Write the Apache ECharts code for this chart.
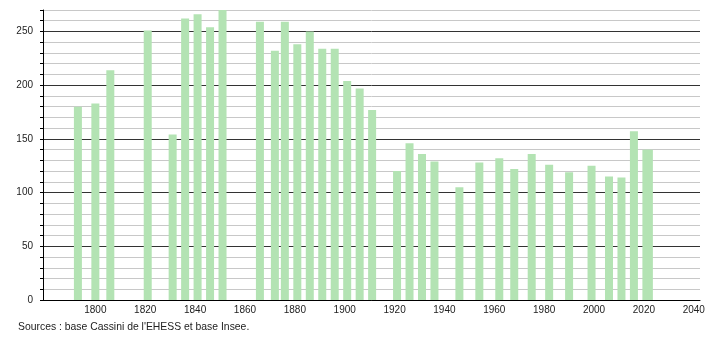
<!DOCTYPE html>
<html>
<head>
<meta charset="utf-8">
<script src="https://cdn.jsdelivr.net/npm/echarts@6/dist/echarts.min.js"></script>
<style>
html,body{margin:0;padding:0;background:#fff;}
#chart{width:710px;height:340px;}
</style>
</head>
<body>
<div id="chart"></div>
<script>
// Census years and population
const years = [1793, 1800, 1806, 1821, 1831, 1836, 1841, 1846, 1851,
  1866, 1872, 1876, 1881, 1886, 1891, 1896, 1901, 1906, 1911,
  1921, 1926, 1931, 1936, 1946, 1954, 1962, 1968, 1975, 1982, 1990,
  1999, 2006, 2011, 2016, 2021, 2022];
const population = [180, 183, 214, 251, 154, 262, 266, 254, 270,
  259, 232, 259, 238, 250, 234, 234, 204, 197, 177,
  120, 146, 136, 129, 105, 128, 132, 122, 136, 126, 119,
  125, 115, 114, 157, 140, 140];
const xTickLabels = [1800, 1820, 1840, 1860, 1880, 1900, 1920, 1940, 1960, 1980, 2000, 2020, 2040];
const yLabelValues = [0, 50, 100, 150, 200, 250];
const sourceText = "Sources : base Cassini de l'EHESS et base Insee.";

const chart = echarts.init(document.getElementById('chart'), null, {renderer: 'canvas'});
const font = 'Liberation Sans, Arial, sans-serif';
chart.setOption({
  animation: false,
  backgroundColor: '#fff',
  grid: {left: 43, right: 10, top: 10, bottom: 40, containLabel: false},
  xAxis: {
    type: 'value',
    min: 1779,
    max: 2042.5,
    axisLine: {show: true, onZero: false, lineStyle: {color: '#000', width: 1}},
    axisTick: {show: false},
    splitLine: {show: false},
    axisLabel: {
      customValues: xTickLabels,
      color: '#222', fontSize: 10, fontFamily: font, margin: 5,
      formatter: v => String(v)
    }
  },
  yAxis: {
    type: 'value',
    min: 0, max: 270, interval: 10,
    axisLine: {show: true, lineStyle: {color: '#000', width: 1}},
    axisTick: {show: true, length: 3, lineStyle: {color: '#000'}},
    axisLabel: {
      color: '#222', fontSize: 10, fontFamily: font, margin: 10,
      formatter: v => yLabelValues.indexOf(v) >= 0 ? String(v) : ''
    },
    splitLine: {show: true, lineStyle: {color: ['#333', '#c8c8c8', '#c8c8c8', '#c8c8c8', '#c8c8c8'], width: 1}}
  },
  series: [{
    type: 'bar',
    data: years.map((y, i) => [y, population[i]]),
    barWidth: 8,
    itemStyle: {color: '#b3e3b3'},
    z: 3
  }],
  graphic: [{
    type: 'text', left: 18, top: 322,
    style: {text: sourceText, fill: '#222', font: '10.4px ' + font}
  }]
});
</script>
</body>
</html>
